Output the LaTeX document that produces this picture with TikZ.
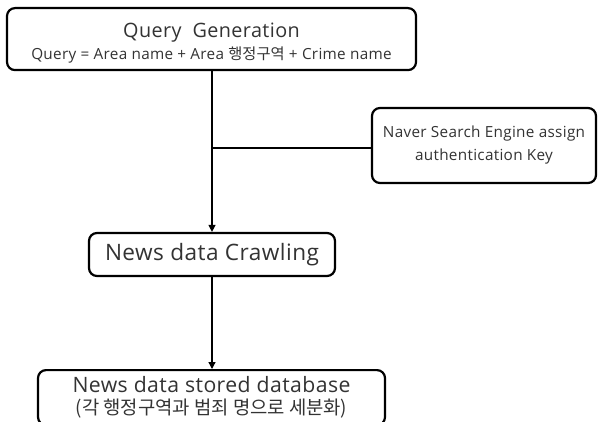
\documentclass[tikz,border=0pt]{standalone}
\usepackage{fontspec}
\setmainfont{Open Sans}[LetterSpace=2]
\newfontfamily\kr{Noto Sans CJK KR}
\usetikzlibrary{arrows.meta}
\begin{document}
\begin{tikzpicture}[x=1pt,y=-1pt,
  box/.style={draw=black,line width=2.2pt,rounded corners=8pt,fill=white,inner sep=0pt,align=center,text=black!80},
  conn/.style={draw=black,line width=1.3pt},
  arr/.style={conn,-{Triangle[length=7pt,width=7pt]}}]
\useasboundingbox (0,0) rectangle (599,422);
\node[box,minimum width=409pt,text height=51pt,text depth=11pt,anchor=north,font=\fontsize{19.8}{21.5}\selectfont] (qg) at (211.5,7)
  {Query\ \ Generation\\{\fontsize{15.3}{17}\selectfont Query = Area name + Area {\kr 행정구역} + Crime name}};
\node[box,minimum width=224pt,minimum height=75pt,font=\fontsize{15.3}{23}\selectfont] (nv) at (484,145.5)
  {Naver Search Engine assign\\ authentication Key};
\node[box,minimum width=246pt,minimum height=43pt,font=\fontsize{22.6}{23}\selectfont] (cr) at (212,254.5)
  {News data Crawling};
\node[box,minimum width=347pt,minimum height=55pt,font=\fontsize{21.2}{22}\selectfont,anchor=north] (db) at (211.5,369)
  {News data stored database\\{\kr\fontsize{18.8}{22}\selectfont (각 행정구역과 범죄 명으로 세분화)}};
\coordinate (j) at (212,148);
\draw[arr] (qg.south -| j) -- (cr.north -| j);
\draw[conn] (j) -- (nv.west |- j);
\draw[arr] (cr.south -| j) -- (db.north -| j);
\end{tikzpicture}
\end{document}
